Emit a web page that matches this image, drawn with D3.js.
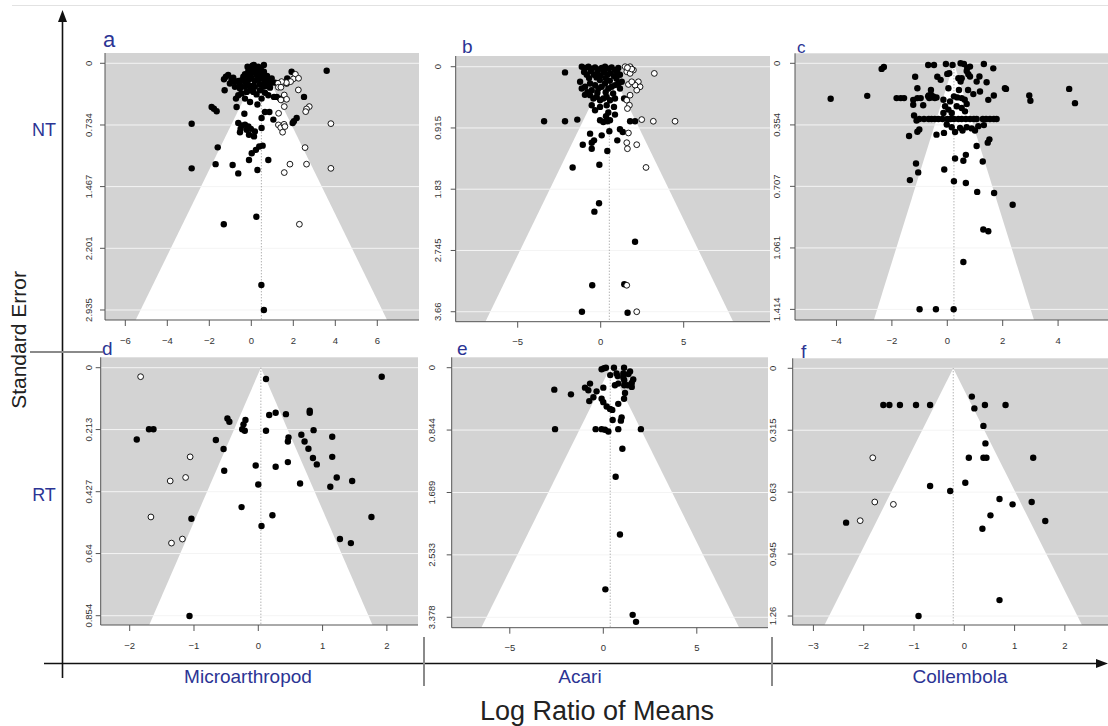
<!DOCTYPE html>
<meta charset="utf-8">
<style>
body { margin: 0; background: #fff; }
text { font-family: 'Liberation Sans', Arial, sans-serif; }
.tick-label { font-size: 9.5px; fill: #333; }
.blue { fill: #2b3494; }
</style>
<body>
<svg id="chart" width="1108" height="726"></svg>
<script src="https://d3js.org/d3.v7.min.js"></script>
<script>
// ---- data: [log ratio of means, standard error] ----
// NT / Microarthropod (a)
const microNTFilled = [
  [0.60,0.02],[-0.06,0.06],[0.10,0.05],[0.25,0.07],[0.02,0.10],[-0.14,0.09],[0.17,0.11],[0.41,0.09],
  [0.33,0.04],[0.05,0.03],[-0.10,0.12],[0.30,0.13],[0.50,0.12],[0.20,0.08],[-0.03,0.14],[0.45,0.06],
  [0.12,0.02],[-0.18,0.04],[0.38,0.15],[0.60,0.10],[-0.30,0.13],[0.75,0.15],
  [-1.21,0.16],[-1.10,0.14],[-1.30,0.19],[-0.94,0.20],[-0.78,0.22],[-0.62,0.21],[-0.46,0.20],[-0.30,0.22],
  [-0.14,0.20],[0.02,0.18],[0.17,0.21],[0.33,0.19],[0.49,0.18],[0.65,0.22],[0.81,0.20],[0.97,0.18],
  [1.13,0.23],[1.71,0.18],[1.68,0.24],[-0.54,0.26],[-0.22,0.25],[0.10,0.27],[0.41,0.25],[0.73,0.27],
  [-0.38,0.16],[0.25,0.14],[-0.78,0.28],[-1.02,0.24],[-0.86,0.17],[-0.10,0.17],[0.56,0.16],[0.90,0.24],
  [-1.27,0.32],[-0.62,0.38],[-0.73,0.42],[-0.46,0.36],[-0.22,0.34],[-0.06,0.32],[0.10,0.34],[0.25,0.37],
  [0.41,0.32],[0.65,0.35],[0.81,0.38],[-0.54,0.30],[-0.30,0.28],[-0.06,0.27],[0.17,0.28],[0.57,0.28],
  [0.89,0.29],[1.21,0.40],[1.08,0.40],[1.37,0.42],[2.51,0.40],[-0.06,0.46],[0.29,0.49],[-0.30,0.42],[0.49,0.42],
  [-1.89,0.52],[-1.78,0.54],[-1.65,0.57],[-0.70,0.52],[-0.33,0.60],[0.49,0.65],[0.65,0.58],[0.86,0.58],
  [1.05,0.67],[2.16,0.65],[2.03,0.69],[1.97,0.71],[-2.84,0.72],
  [-0.62,0.71],[-0.46,0.74],[-0.30,0.73],[-0.14,0.75],[-0.51,0.78],[-0.22,0.79],[-0.02,0.78],[0.17,0.81],
  [-0.54,0.82],[-0.11,0.85],[0.13,0.87],[0.49,0.77],
  [-1.60,1.00],[0.22,1.03],[0.38,0.99],[0.54,0.98],[0.02,1.07],[-2.84,1.25],[-1.70,1.20],[-0.89,1.21],
  [-0.11,1.15],[0.29,1.27],[0.81,1.15],[-0.62,1.31],
  [-1.31,1.915],[0.24,1.825],[0.48,2.637],[0.60,2.935],[3.59,0.088],[1.92,0.10]
];
const microNTOpen = [
  [2.10,0.131],[2.00,0.186],[2.25,0.178],[1.87,0.218],[1.67,0.23],[1.44,0.218],[1.27,0.238],[1.29,0.285],
  [1.41,0.285],[2.24,0.317],[1.57,0.377],[1.68,0.428],[1.41,0.436],[1.57,0.515],[1.30,0.595],[2.76,0.515],
  [2.63,0.543],[2.59,0.575],[3.79,0.718],[1.29,0.733],[1.40,0.765],[1.56,0.726],[1.49,0.82],[1.60,0.753],
  [2.56,1.003],[1.84,1.20],[2.63,1.20],[1.57,1.30],[3.79,1.25],[2.29,1.915]
];
// NT / Acari (b)
const acariNTFilled = [
  [-1.14,0.0],[-0.94,0.02],[-0.74,0.0],[-0.54,0.03],[-0.34,0.01],[-0.14,0.04],[0.06,0.02],[0.26,0.0],
  [0.46,0.03],[0.66,0.01],[0.86,0.05],[1.06,0.02],[-1.0,0.08],[-0.6,0.07],[-0.2,0.09],[0.2,0.08],
  [0.6,0.10],[1.0,0.09],[1.16,0.12],[-0.84,0.12],[-0.4,0.12],[0.0,0.13],[0.4,0.12],[0.8,0.14],
  [-0.25,0.16],[0.30,0.17],[-0.70,0.17],[0.95,0.18],[-0.05,0.20],[0.55,0.21],
  [-2.15,0.085],
  [-1.24,0.225],[-1.14,0.325],[-0.94,0.30],[-0.64,0.25],[-0.54,0.35],[-0.34,0.275],[-0.14,0.325],[0.06,0.30],
  [0.26,0.25],[0.46,0.325],[0.66,0.30],[0.86,0.275],[1.06,0.25],[1.27,0.225],[1.16,0.325],
  [-0.80,0.38],[-0.20,0.39],[0.30,0.38],[0.75,0.40],[-0.95,0.42],
  [-0.64,0.425],[-0.44,0.475],[-0.24,0.45],[-0.04,0.50],[0.16,0.475],[0.36,0.45],[0.56,0.50],[0.86,0.475],
  [-0.54,0.575],[-0.04,0.60],[0.36,0.575],[0.80,0.60],[-0.34,0.65],[1.41,0.475],
  [0.46,0.685],[0.86,0.715],[0.32,0.74],[-0.04,0.80],[0.16,0.825],[0.40,0.815],[0.56,0.80],
  [-3.41,0.815],[-2.15,0.815],[-1.41,0.79],[1.77,0.815],[2.07,0.815],
  [-0.64,1.0],[0.06,1.025],[0.52,0.965],[1.16,0.935],[1.33,0.975],
  [-1.08,1.165],[-0.54,1.135],[-0.40,1.10],[1.0,1.10],[-0.54,1.225],[0.40,1.26],
  [-1.69,1.505],[-0.08,1.465],
  [-0.38,2.165],[-0.10,2.04],[2.07,2.615],[-0.51,3.265],[1.42,3.25],[-1.13,3.66],[1.62,3.675]
];
const acariNTOpen = [
  [1.47,0.0],[1.77,0.0],[1.97,0.05],[1.57,0.075],[1.77,0.10],[1.87,0.035],[1.61,0.015],[3.23,0.10],
  [2.27,0.225],[2.37,0.30],[2.17,0.35],[2.07,0.275],[1.67,0.265],[1.87,0.225],
  [1.77,0.425],[1.57,0.50],[1.73,0.575],[1.61,0.625],
  [2.47,0.79],[3.17,0.815],[4.48,0.815],[1.67,0.99],[1.57,1.135],[1.61,1.225],[2.17,1.165],[2.73,1.505],
  [2.17,3.66],[1.57,3.265]
];
// NT / Collembola (c)
const collNTFilled = [
  [-0.69,0.01],[-0.48,0.01],[-0.05,0.004],[0.19,0.01],[0.48,0.0],[0.60,0.004],[0.72,0.025],[0.82,0.019],
  [1.32,0.004],[1.66,0.029],[-2.37,0.032],[-2.29,0.021],
  [-1.16,0.077],[-0.36,0.077],[-0.24,0.095],[0.0,0.061],[0.07,0.057],
  [0.40,0.086],[0.52,0.086],[0.70,0.044],[0.76,0.063],[0.82,0.076],[1.16,0.076],[1.42,0.109],[1.06,0.105],[0.48,0.105],
  [-1.08,0.143],[-0.59,0.153],[0.04,0.143],[0.42,0.153],[0.75,0.153],[0.94,0.177],[1.18,0.162],[1.48,0.21],
  [1.68,0.185],[2.08,0.143],
  [-1.83,0.20],[-1.68,0.20],[-1.56,0.20],[-1.23,0.21],[-1.08,0.20],[-0.96,0.20],[-0.69,0.19],[-0.59,0.18],
  [-0.51,0.19],[-0.39,0.196],[-0.65,0.20],[-0.57,0.196],[-0.45,0.20],[-0.67,0.184],
  [-1.23,0.238],[-0.87,0.241],
  [-0.14,0.209],[0.10,0.219],[0.24,0.19],[0.36,0.196],[0.52,0.20],[0.63,0.209],[0.70,0.234],
  [-0.08,0.247],[0.04,0.266],[0.16,0.285],[0.34,0.247],[0.52,0.257],[0.64,0.276],[-0.14,0.285],
  [2.96,0.185],[3.0,0.215],[4.40,0.147],[4.61,0.229],[2.12,0.147],[-2.89,0.187],[-4.21,0.204],
  [-1.01,0.32],[-0.84,0.32],[-0.67,0.32],[-0.57,0.32],[-0.45,0.32],[-0.32,0.32],[-0.17,0.32],[0.0,0.32],
  [0.12,0.32],[0.24,0.32],[0.40,0.32],[0.52,0.32],[0.67,0.32],[0.82,0.32],[0.96,0.32],[1.06,0.32],
  [1.28,0.32],[1.40,0.32],[1.54,0.32],[1.68,0.32],[1.78,0.32],
  [-1.20,0.30],[-1.11,0.329],
  [-0.02,0.352],[0.16,0.367],[0.28,0.395],[0.46,0.371],[0.55,0.386],[0.70,0.367],[0.88,0.374],[1.0,0.386],
  [1.12,0.361],[1.32,0.355],
  [-1.01,0.38],[-1.08,0.393],[-1.38,0.418],[-0.39,0.41],[-0.12,0.40],[1.52,0.437],[1.46,0.456],[1.06,0.475],
  [0.67,0.526],[0.58,0.56],[0.28,0.547],[1.28,0.564],[-1.13,0.576],[-1.05,0.627],[-1.35,0.671],[-0.11,0.61],
  [0.24,0.678],[0.67,0.688],[1.08,0.739],[1.69,0.745],[2.36,0.813],[1.30,0.955],[1.48,0.965],[0.58,1.142],
  [-1.0,1.413],[-0.41,1.413],[0.23,1.413]
];
const collNTOpen = [];
// RT / Microarthropod (d)
const microRTFilled = [
  [0.12,0.039],[1.92,0.031],[0.17,0.163],[0.27,0.155],[0.43,0.16],[0.80,0.148],[0.80,0.155],
  [-0.48,0.175],[-0.45,0.186],[-0.20,0.18],[-0.23,0.195],[-0.25,0.212],[-0.21,0.217],[0.12,0.217],
  [0.86,0.215],[-1.70,0.212],[-1.63,0.212],[-1.89,0.247],[-0.66,0.249],[-0.54,0.28],
  [0.47,0.24],[0.46,0.254],[0.67,0.231],[0.72,0.254],[0.78,0.279],[1.15,0.238],[1.15,0.307],
  [0.85,0.311],[0.91,0.333],[0.46,0.325],[-0.04,0.337],[0.27,0.341],[-0.53,0.355],[1.22,0.378],
  [1.46,0.39],[0.65,0.399],[1.12,0.41],[0.0,0.402],[-0.26,0.48],[0.22,0.508],[0.05,0.545],
  [1.76,0.514],[-1.04,0.52],[1.27,0.59],[1.44,0.604],[-1.07,0.855]
];
const microRTOpen = [
  [-1.83,0.031],[-1.06,0.307],[-1.13,0.378],[-1.37,0.39],[-1.67,0.514],[-1.18,0.59],[-1.35,0.604]
];
// RT / Acari (e)
const acariRTFilled = [
  [-0.09,0.022],[0.04,0.008],[0.14,0.0],[0.57,0.0],[1.11,0.0],[1.43,0.05],
  [0.37,0.10],[0.71,0.078],[0.77,0.114],[1.07,0.078],[1.07,0.133],[1.34,0.087],[1.60,0.16],[1.52,0.206],
  [1.12,0.169],[0.80,0.215],[0.62,0.238],[1.30,0.238],[1.52,0.26],[1.12,0.238],[1.16,0.343],[1.11,0.42],
  [-2.62,0.297],[-1.73,0.361],[-0.98,0.27],[-0.71,0.215],[-0.80,0.306],[-0.36,0.32],[0.0,0.27],
  [-0.53,0.40],[-0.75,0.452],[-0.09,0.42],[0.0,0.466],[0.18,0.526],[0.36,0.558],[0.48,0.571],[0.80,0.489],
  [0.98,0.672],[0.94,0.717],[0.50,0.708],
  [-2.58,0.832],[-0.41,0.832],[-0.09,0.832],[0.09,0.84],[0.27,0.864],[0.80,0.832],[2.01,0.832],
  [1.02,1.097],[0.66,1.476],[0.89,2.258],[0.11,3.0],[1.57,3.345],[1.75,3.44]
];
const acariRTOpen = [];
// RT / Collembola (f)
const collRTFilled = [
  [0.15,0.144],[0.20,0.204],[-1.61,0.187],[-1.49,0.187],[-1.28,0.187],[-0.96,0.187],[-0.68,0.187],
  [0.41,0.187],[0.82,0.187],[0.38,0.293],[0.42,0.382],[0.09,0.455],[0.38,0.455],[0.44,0.455],[1.37,0.455],
  [0.02,0.582],[-0.68,0.599],[-0.28,0.624],[0.70,0.665],[0.96,0.692],[1.34,0.68],[0.52,0.748],[1.61,0.777],
  [0.36,0.816],[-2.35,0.785],[0.70,1.179],[-0.91,1.26]
];
const collRTOpen = [[-1.82,0.455],[-1.78,0.68],[-1.41,0.692],[-2.07,0.775]];

// pooled estimates (reference line / funnel centre), a..f
const summaryEst = [0.48, 0.52, 0.24, 0.04, 0.37, -0.22];
// axis tick values
const seTicks = [
  [0, 0.734, 1.467, 2.201, 2.935],
  [0, 0.915, 1.83, 2.745, 3.66],
  [0, 0.354, 0.707, 1.061, 1.414],
  [0, 0.213, 0.427, 0.64, 0.854],
  [0, 0.844, 1.689, 2.533, 3.378],
  [0, 0.315, 0.63, 0.945, 1.26]
];
const lrmTicks = [
  [-6, -4, -2, 0, 2, 4, 6],
  [-5, 0, 5],
  [-4, -2, 0, 2, 4],
  [-2, -1, 0, 1, 2],
  [-5, 0, 5],
  [-3, -2, -1, 0, 1, 2]
];
const panelLetters = ["a", "b", "c", "d", "e", "f"];
const groupNames = ["Microarthropod", "Acari", "Collembola"];
const rowNames = ["NT", "RT"];

// ---- layout ----
const panels = [
  {filled: microNTFilled, open: microNTOpen, box: [105, 419, 53, 320],    xlim: [-6.967, 7.986], ylim: [-0.1225, 3.054], letter: [103, 47, 22], yLab: 12.7},
  {filled: acariNTFilled, open: acariNTOpen, box: [455.7, 770, 56, 321.7], xlim: [-8.735, 10.199], ylim: [-0.160, 3.809], letter: [462, 53, 19], yLab: 14.4},
  {filled: collNTFilled,  open: collNTOpen,  box: [795, 1110, 53.3, 320],  xlim: [-5.498, 5.874], ylim: [-0.0575, 1.475], letter: [797, 52.5, 17], yLab: 15.3},
  {filled: microRTFilled, open: microRTOpen, box: [100.7, 418, 357.3, 625], xlim: [-2.451, 2.484], ylim: [-0.0358, 0.886], letter: [102, 355, 19], yLab: 8.4},
  {filled: acariRTFilled, open: acariRTOpen, box: [451.7, 768, 357.3, 627.7], xlim: [-8.107, 8.807], ylim: [-0.1407, 3.519], letter: [457, 355, 19], yLab: 17},
  {filled: collRTFilled,  open: collRTOpen,  box: [792.7, 1110, 358.3, 625], xlim: [-3.412, 2.897], ylim: [-0.0509, 1.3057], letter: [801, 358, 19], yLab: 17}
];

const svg = d3.select("#chart");
const fmtTick = d => d < 0 ? "\u2212" + Math.abs(d) : String(d);

// faint top border
svg.append("line").attr("x1", 12).attr("x2", 1108).attr("y1", 5.5).attr("y2", 5.5)
  .attr("stroke", "#e2e2e2").attr("stroke-width", 1);

panels.forEach((p, i) => {
  const [L, R, T, B] = p.box;
  const x = d3.scaleLinear().domain(p.xlim).range([L, R]);
  const y = d3.scaleLinear().domain(p.ylim).range([T, B]);
  const c = summaryEst[i];
  const yb = p.ylim[1];
  const g = svg.append("g");

  g.append("rect").attr("x", L).attr("y", T).attr("width", R - L).attr("height", B - T)
    .attr("fill", "#d3d3d3");

  // pseudo confidence region
  g.append("path")
    .datum([[c - 1.96 * yb, yb], [c, 0], [c + 1.96 * yb, yb]])
    .attr("d", d3.line().x(d => x(d[0])).y(d => y(d[1])))
    .attr("fill", "#fff");

  g.selectAll(".grid").data(seTicks[i]).join("line")
    .attr("x1", L).attr("x2", R).attr("y1", d => y(d)).attr("y2", d => y(d))
    .attr("stroke", "#f4f4f4").attr("stroke-width", 1);

  g.append("line").attr("x1", x(c)).attr("x2", x(c)).attr("y1", y(0)).attr("y2", B)
    .attr("stroke", "#777").attr("stroke-width", 0.8).attr("stroke-dasharray", "1,2");

  g.selectAll(".pt").data(p.filled).join("circle")
    .attr("cx", d => x(d[0])).attr("cy", d => y(d[1])).attr("r", 3.2).attr("fill", "#000");
  g.selectAll(".op").data(p.open).join("circle")
    .attr("cx", d => x(d[0])).attr("cy", d => y(d[1])).attr("r", 2.9)
    .attr("fill", "#fff").attr("stroke", "#000").attr("stroke-width", 0.9);

  // axes
  g.append("line").attr("x1", L).attr("x2", L).attr("y1", T).attr("y2", B).attr("stroke", "#555");
  g.append("line").attr("x1", L).attr("x2", R).attr("y1", B).attr("y2", B).attr("stroke", "#555");

  g.selectAll(".yt").data(seTicks[i]).join("line")
    .attr("x1", L - 5).attr("x2", L).attr("y1", d => y(d)).attr("y2", d => y(d)).attr("stroke", "#555");
  g.selectAll(".yl").data(seTicks[i]).join("text")
    .attr("class", "tick-label")
    .attr("transform", d => `translate(${L - p.yLab},${y(d)}) rotate(-90)`)
    .attr("text-anchor", "middle")
    .text(d => d);

  g.selectAll(".xt").data(lrmTicks[i]).join("line")
    .attr("x1", d => x(d)).attr("x2", d => x(d)).attr("y1", B).attr("y2", B + 6).attr("stroke", "#555");
  g.selectAll(".xl").data(lrmTicks[i]).join("text")
    .attr("class", "tick-label")
    .attr("x", d => x(d)).attr("y", B + 23.5)
    .attr("text-anchor", "middle")
    .text(fmtTick);

  g.append("text").attr("class", "blue")
    .attr("x", p.letter[0]).attr("y", p.letter[1])
    .style("font-size", p.letter[2] + "px")
    .text(panelLetters[i]);
});

// outer frame: axes with arrows, separators and titles
const frame = svg.append("g");
frame.append("line").attr("x1", 62.5).attr("x2", 62.5).attr("y1", 18).attr("y2", 678)
  .attr("stroke", "#111").attr("stroke-width", 1.6);
frame.append("path").attr("d", "M62.5,10L58,22L67,22Z").attr("fill", "#111");
frame.append("line").attr("x1", 44).attr("x2", 1098).attr("y1", 663.5).attr("y2", 663.5)
  .attr("stroke", "#111").attr("stroke-width", 1.6);
frame.append("path").attr("d", "M1108,663.5L1096,659L1096,668Z").attr("fill", "#111");

frame.append("line").attr("x1", 30).attr("x2", 103).attr("y1", 352).attr("y2", 352)
  .attr("stroke", "#8a8a8a").attr("stroke-width", 2);
[424, 772].forEach(sx => {
  frame.append("line").attr("x1", sx).attr("x2", sx).attr("y1", 637).attr("y2", 686)
    .attr("stroke", "#8a8a8a").attr("stroke-width", 2);
});

const colCentres = [248, 580, 960];
frame.selectAll(".grp").data(groupNames).join("text")
  .attr("class", "blue").attr("x", (d, i) => colCentres[i]).attr("y", 683)
  .attr("text-anchor", "middle").style("font-size", "19px").text(d => d);

const rowCentres = [130, 495];
frame.selectAll(".row").data(rowNames).join("text")
  .attr("class", "blue").attr("x", 44).attr("y", (d, i) => rowCentres[i] + 6)
  .attr("text-anchor", "middle").style("font-size", "18px").text(d => d);

frame.append("text")
  .attr("transform", "translate(26,340) rotate(-90)")
  .attr("text-anchor", "middle").style("font-size", "21px").attr("fill", "#222")
  .text("Standard Error");

frame.append("text")
  .attr("x", 597).attr("y", 720).attr("text-anchor", "middle")
  .style("font-size", "27px").attr("fill", "#222")
  .text("Log Ratio of Means");
</script>
</body>
